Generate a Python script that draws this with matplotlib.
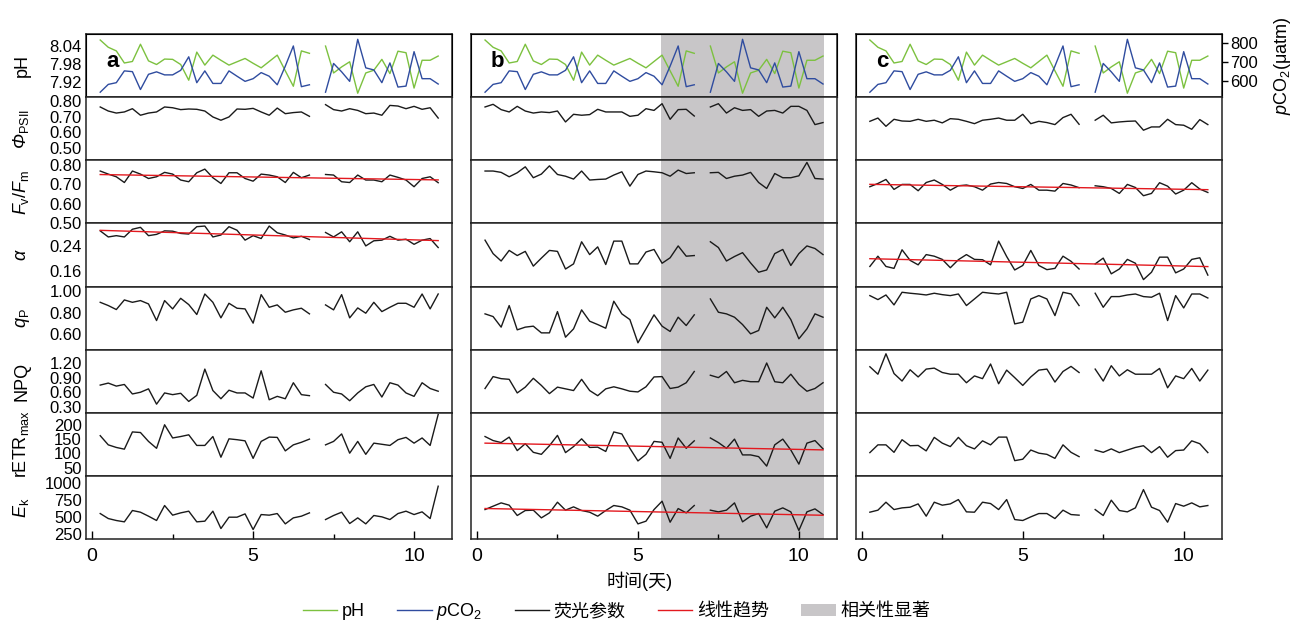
import matplotlib
matplotlib.use('Agg')
import matplotlib.pyplot as plt
from matplotlib.lines import Line2D
from matplotlib.patches import Patch
import numpy as np

plt.rcParams['font.family'] = ['Liberation Sans', 'Noto Sans CJK SC']
plt.rcParams['mathtext.fontset'] = 'custom'
plt.rcParams['mathtext.rm'] = 'Liberation Sans'
plt.rcParams['mathtext.it'] = 'Liberation Sans:italic'
plt.rcParams['mathtext.bf'] = 'Liberation Sans:bold'
plt.rcParams['mathtext.cal'] = 'Liberation Sans:italic'

# sampling times (days); no data between 6.75 and 7.25
days = [0.25, 0.5, 0.75, 1.0, 1.25, 1.5, 1.75, 2.0, 2.25, 2.5, 2.75, 3.0, 3.25, 3.5,
        3.75, 4.0, 4.25, 4.5, 4.75, 5.0, 5.25, 5.5, 5.75, 6.0, 6.25, 6.5, 6.75,
        7.25, 7.5, 7.75, 8.0, 8.25, 8.5, 8.75, 9.0, 9.25, 9.5, 9.75, 10.0, 10.25, 10.5, 10.75]
n_first = 27

ph = [8.060, 8.036, 8.024, 7.984, 7.989, 8.046, 7.991, 7.979, 7.997, 7.996, 7.979, 7.927, 8.020, 7.977,
      8.010, 7.993, 7.977, 7.988, 7.999, 7.983, 7.968, 7.989, 8.010, 7.958, 7.907, 8.024, 8.016,
      8.040, 7.951, 7.971, 7.988, 7.884, 7.951, 7.960, 7.996, 7.949, 8.023, 8.018, 7.901, 7.993, 7.993, 8.007]
pco2 = [543, 584, 593, 655, 651, 557, 637, 650, 634, 634, 658, 729, 593, 655, 589, 589, 655, 627, 600,
        614, 646, 627, 582, 680, 786, 572, 582,
        543, 694, 650, 600, 821, 671, 660, 593, 697, 570, 575, 756, 614, 614, 586]

# panel a
phi_a = [0.762, 0.736, 0.723, 0.730, 0.751, 0.709, 0.723, 0.730, 0.762, 0.757, 0.745, 0.749, 0.747, 0.736,
         0.698, 0.677, 0.698, 0.749, 0.747, 0.753, 0.730, 0.709, 0.755, 0.719, 0.726, 0.730, 0.702,
         0.777, 0.745, 0.736, 0.751, 0.740, 0.719, 0.723, 0.709, 0.772, 0.768, 0.751, 0.766, 0.747, 0.757, 0.691]
fvfm_a = [0.770, 0.754, 0.740, 0.710, 0.770, 0.754, 0.731, 0.740, 0.763, 0.754, 0.723, 0.714, 0.761, 0.780,
          0.735, 0.705, 0.761, 0.761, 0.731, 0.717, 0.754, 0.749, 0.740, 0.710, 0.763, 0.735, 0.749,
          0.752, 0.749, 0.714, 0.710, 0.749, 0.723, 0.723, 0.714, 0.749, 0.737, 0.723, 0.688, 0.731, 0.740, 0.709]
alpha_a = [0.286, 0.267, 0.271, 0.267, 0.291, 0.297, 0.271, 0.275, 0.286, 0.285, 0.278, 0.276, 0.299, 0.301,
           0.267, 0.273, 0.299, 0.288, 0.257, 0.271, 0.262, 0.301, 0.280, 0.273, 0.264, 0.269, 0.259,
           0.281, 0.267, 0.283, 0.252, 0.283, 0.239, 0.255, 0.257, 0.269, 0.257, 0.260, 0.244, 0.257, 0.262, 0.234]
qp_a = [0.898, 0.868, 0.831, 0.920, 0.898, 0.914, 0.883, 0.729, 0.914, 0.837, 0.935, 0.877, 0.785, 0.975,
        0.898, 0.754, 0.889, 0.843, 0.837, 0.705, 0.969, 0.852, 0.874, 0.806, 0.828, 0.843, 0.791,
        0.874, 0.828, 0.969, 0.754, 0.846, 0.797, 0.898, 0.812, 0.852, 0.889, 0.889, 0.852, 0.975, 0.837, 0.975]
npq_a = [0.747, 0.788, 0.726, 0.760, 0.565, 0.600, 0.670, 0.356, 0.586, 0.551, 0.579, 0.412, 0.537, 1.075,
         0.635, 0.467, 0.642, 0.586, 0.586, 0.481, 1.040, 0.446, 0.516, 0.467, 0.795, 0.551, 0.530,
         0.760, 0.600, 0.565, 0.426, 0.586, 0.712, 0.760, 0.502, 0.795, 0.747, 0.586, 0.516, 0.795, 0.677, 0.621]
retr_a = [162, 130, 121, 115, 175, 173, 142, 118, 200, 154, 159, 165, 128, 128, 159, 87, 151, 148, 144, 83,
          142, 157, 156, 109, 130, 139, 150,
          130, 142, 168, 101, 142, 97, 136, 132, 128, 148, 156, 136, 154, 128, 236]
ek_a = [554, 480, 451, 431, 599, 574, 515, 451, 673, 530, 564, 589, 431, 441, 589, 332, 500, 500, 549, 317,
        539, 530, 554, 401, 490, 515, 564,
        465, 525, 574, 406, 490, 401, 525, 505, 465, 554, 589, 539, 579, 480, 959]

# panel b
phi_b = [0.762, 0.779, 0.745, 0.730, 0.766, 0.736, 0.723, 0.730, 0.726, 0.736, 0.666, 0.715, 0.709, 0.713,
         0.747, 0.730, 0.730, 0.730, 0.702, 0.709, 0.751, 0.740, 0.783, 0.683, 0.745, 0.747, 0.704,
         0.762, 0.783, 0.723, 0.757, 0.740, 0.745, 0.702, 0.736, 0.740, 0.723, 0.766, 0.766, 0.740, 0.649, 0.662]
fvfm_b = [0.770, 0.770, 0.763, 0.740, 0.761, 0.792, 0.735, 0.754, 0.797, 0.752, 0.743, 0.728, 0.770, 0.723,
          0.726, 0.728, 0.749, 0.766, 0.691, 0.752, 0.770, 0.766, 0.761, 0.743, 0.775, 0.757, 0.761,
          0.761, 0.763, 0.731, 0.743, 0.749, 0.763, 0.710, 0.679, 0.757, 0.735, 0.735, 0.745, 0.815, 0.731, 0.728]
alpha_b = [0.257, 0.215, 0.192, 0.225, 0.209, 0.222, 0.176, 0.201, 0.225, 0.222, 0.167, 0.183, 0.252, 0.212,
           0.236, 0.181, 0.254, 0.254, 0.183, 0.183, 0.220, 0.228, 0.185, 0.202, 0.239, 0.207, 0.209,
           0.252, 0.234, 0.192, 0.206, 0.218, 0.186, 0.157, 0.164, 0.215, 0.228, 0.178, 0.215, 0.239, 0.231, 0.212]
qp_b = [0.791, 0.766, 0.668, 0.868, 0.643, 0.668, 0.677, 0.615, 0.615, 0.812, 0.575, 0.652, 0.828, 0.723,
        0.692, 0.658, 0.908, 0.791, 0.738, 0.523, 0.652, 0.782, 0.677, 0.628, 0.760, 0.683, 0.782,
        0.929, 0.806, 0.791, 0.760, 0.692, 0.606, 0.637, 0.852, 0.754, 0.852, 0.738, 0.560, 0.652, 0.791, 0.760]
npq_b = [0.677, 0.921, 0.879, 0.865, 0.586, 0.705, 0.886, 0.740, 0.572, 0.705, 0.670, 0.635, 0.865, 0.635,
         0.530, 0.670, 0.712, 0.670, 0.621, 0.607, 0.712, 0.914, 0.921, 0.677, 0.705, 0.795, 1.026,
         0.949, 0.900, 1.026, 0.795, 0.844, 0.816, 0.816, 1.200, 0.816, 0.795, 0.970, 0.761, 0.621, 0.677, 0.795]
retr_b = [159, 145, 138, 157, 110, 134, 104, 97, 127, 163, 103, 124, 151, 121, 122, 107, 175, 168, 118, 74,
          97, 142, 139, 83, 154, 118, 144,
          154, 138, 118, 150, 95, 95, 89, 56, 130, 150, 112, 63, 136, 145, 116]
ek_b = [613, 663, 712, 678, 525, 599, 604, 490, 564, 722, 604, 653, 599, 574, 515, 599, 673, 653, 604, 401,
        441, 613, 737, 426, 628, 564, 673,
        604, 579, 604, 712, 431, 515, 554, 342, 589, 638, 579, 303, 579, 623, 539]

# panel c
phi_c = [0.670, 0.691, 0.638, 0.683, 0.672, 0.670, 0.683, 0.670, 0.677, 0.660, 0.687, 0.683, 0.670, 0.655,
         0.677, 0.683, 0.691, 0.677, 0.677, 0.715, 0.655, 0.670, 0.662, 0.649, 0.694, 0.715, 0.651,
         0.677, 0.709, 0.660, 0.666, 0.670, 0.672, 0.613, 0.634, 0.634, 0.683, 0.649, 0.645, 0.619, 0.681, 0.649]
fvfm_c = [0.688, 0.705, 0.726, 0.674, 0.700, 0.700, 0.667, 0.710, 0.723, 0.700, 0.670, 0.693, 0.697, 0.688,
          0.670, 0.702, 0.710, 0.705, 0.688, 0.679, 0.700, 0.670, 0.670, 0.665, 0.705, 0.697, 0.683,
          0.693, 0.688, 0.679, 0.653, 0.700, 0.684, 0.641, 0.653, 0.709, 0.691, 0.650, 0.670, 0.709, 0.676, 0.658]
alpha_c = [0.175, 0.207, 0.175, 0.169, 0.227, 0.194, 0.180, 0.212, 0.207, 0.197, 0.171, 0.196, 0.212, 0.197,
           0.196, 0.180, 0.254, 0.206, 0.164, 0.178, 0.225, 0.178, 0.165, 0.169, 0.207, 0.191, 0.167,
           0.183, 0.201, 0.152, 0.167, 0.197, 0.185, 0.134, 0.157, 0.204, 0.204, 0.155, 0.167, 0.197, 0.202, 0.148]
qp_c = [0.960, 0.923, 0.966, 0.874, 0.991, 0.982, 0.975, 0.966, 0.982, 0.969, 0.960, 0.975, 0.868, 0.929,
        0.991, 0.982, 0.975, 0.991, 0.698, 0.714, 0.929, 0.960, 0.929, 0.775, 0.991, 0.975, 0.868,
        0.982, 0.852, 0.951, 0.951, 0.966, 0.975, 0.951, 0.945, 0.982, 0.729, 0.960, 0.846, 0.975, 0.975, 0.938]
npq_c = [1.123, 0.970, 1.389, 0.984, 0.830, 1.061, 0.914, 1.075, 1.095, 1.005, 0.970, 0.970, 0.795, 0.935,
         0.879, 1.179, 0.774, 1.054, 0.900, 0.740, 0.914, 1.054, 1.075, 0.809, 1.026, 1.130, 1.005,
         1.075, 0.830, 1.144, 0.935, 1.061, 0.970, 0.970, 0.970, 1.088, 0.691, 0.935, 0.879, 1.088, 0.830, 1.054]
retr_c = [103, 130, 130, 104, 148, 127, 128, 109, 156, 136, 124, 156, 127, 116, 144, 130, 157, 157, 75, 80,
          112, 101, 97, 83, 130, 104, 89,
          112, 104, 116, 103, 112, 121, 127, 103, 124, 87, 110, 112, 144, 134, 103]
ek_c = [574, 604, 722, 613, 638, 648, 697, 515, 722, 678, 697, 761, 579, 574, 722, 702, 613, 761, 465, 451,
        505, 554, 554, 480, 604, 539, 530,
        613, 525, 752, 599, 579, 638, 909, 648, 599, 426, 702, 663, 712, 653, 673]

panel_letters = ['a', 'b', 'c']
params = [
    [phi_a, fvfm_a, alpha_a, qp_a, npq_a, retr_a, ek_a],
    [phi_b, fvfm_b, alpha_b, qp_b, npq_b, retr_b, ek_b],
    [phi_c, fvfm_c, alpha_c, qp_c, npq_c, retr_c, ek_c],
]
# rows (within the 7 fluorescence rows) that carry a linear trend, per panel
trend_rows = [[1, 2], [5, 6], [1, 2]]
signif_span = (5.72, 10.77)  # shaded period in panel b

row_labels = ['pH', r'$\mathcal{\Phi}_{\mathrm{PSII}}$', r'$F_{\mathrm{v}}/F_{\mathrm{m}}$', r'$\alpha$',
              r'$q_{\mathrm{P}}$', 'NPQ', r'rETR$_{\mathrm{max}}$', r'$E_{\mathrm{k}}$']
row_ylims = [(7.871, 8.08), (0.42, 0.825), (0.496, 0.826), (0.112, 0.309), (0.458, 1.043),
             (0.175, 1.47), (21, 241), (172, 1108)]
row_ticks = [[7.92, 7.98, 8.04], [0.5, 0.6, 0.7, 0.8], [0.5, 0.6, 0.7, 0.8], [0.16, 0.24],
             [0.6, 0.8, 1.0], [0.3, 0.6, 0.9, 1.2], [50, 100, 150, 200], [250, 500, 750, 1000]]
row_fmt = ['%.2f'] * 6 + ['%d', '%d']

c_ph = '#7cc13f'
c_co2 = '#2f4c9f'
c_fl = '#1a1a1a'
c_trend = '#e3191f'
c_shade = '#c8c6c8'

t = np.array(days)


def plot_seg(ax, y, **kw):
    y = np.asarray(y, dtype=float)
    ax.plot(t[:n_first], y[:n_first], **kw)
    ax.plot(t[n_first:], y[n_first:], **kw)


fig = plt.figure(figsize=(12.98, 6.28), dpi=100)
gs = fig.add_gridspec(8, 3, left=0.0663, right=0.9412, top=0.9459, bottom=0.1412,
                      wspace=0.0515, hspace=0)

for c in range(3):
    for r in range(8):
        ax = fig.add_subplot(gs[r, c])
        ax.set_xlim(-0.19, 11.18)
        ax.set_ylim(*row_ylims[r])
        ax.set_yticks(row_ticks[r])
        ax.yaxis.set_major_formatter(matplotlib.ticker.FormatStrFormatter(row_fmt[r]))
        ax.tick_params(axis='y', length=0, pad=3, labelsize=12, labelleft=(c == 0))
        for sp in ax.spines.values():
            sp.set_linewidth(1.1)
            sp.set_color('#222222')
        if c == 1:
            ax.axvspan(*signif_span, color=c_shade, lw=0, zorder=0)

        if r == 0:
            plot_seg(ax, ph, color=c_ph, lw=1.0)
            ax2 = ax.twinx()
            ax2.set_ylim(517, 849)
            plot_seg(ax2, pco2, color=c_co2, lw=1.0)
            if c == 2:
                ax2.set_yticks([600, 700, 800])
                ax2.tick_params(axis='y', direction='out', length=4, width=1.0, pad=2, labelsize=12)
                ax2.text(1.178, -0.29, r'$p$CO$_2$(μatm)', transform=ax2.transAxes, rotation=90,
                         rotation_mode='anchor', ha='left', va='baseline', fontsize=13)
            else:
                ax2.set_yticks([])
            ax.text(0.055, 0.47, panel_letters[c], transform=ax.transAxes, fontsize=16,
                    fontweight='bold', va='baseline')
        else:
            y = params[c][r - 1]
            plot_seg(ax, y, color=c_fl, lw=1.0)
            if (r - 1) in trend_rows[c]:
                k, b = np.polyfit(t, np.asarray(y, dtype=float), 1)
                ax.plot([t[0], t[-1]], [k * t[0] + b, k * t[-1] + b], color=c_trend, lw=1.0)

        if c == 0:
            ax.text(-0.163, 0.5, row_labels[r], transform=ax.transAxes, rotation=90,
                    rotation_mode='anchor', ha='center', va='baseline', fontsize=13)

        if r == 7:
            ax.set_xticks([0, 5, 10])
            ax.set_xticks([2.5, 7.5], minor=True)
            ax.tick_params(axis='x', which='major', direction='in', length=6, width=1.0,
                           pad=6, labelsize=14)
            ax.tick_params(axis='x', which='minor', direction='in', length=3.5, width=1.0)
        else:
            ax.tick_params(axis='x', which='both', bottom=False, labelbottom=False)

fig.text(0.493, 0.0748, '时间(天)', ha='center', va='center', fontsize=13)

handles = [Line2D([], [], color=c_ph, lw=1.0), Line2D([], [], color=c_co2, lw=1.0),
           Line2D([], [], color=c_fl, lw=1.0), Line2D([], [], color=c_trend, lw=1.0),
           Patch(facecolor=c_shade, edgecolor='none')]
labels = ['pH', r'$p$CO$_2$', '荧光参数', '线性趋势', '相关性显著']
fig.legend(handles, labels, loc='center', bbox_to_anchor=(0.475, 0.026), ncol=5, frameon=False,
           fontsize=13, handlelength=1.9, handletextpad=0.25, columnspacing=1.8)

fig.savefig('out.png', dpi=100)
